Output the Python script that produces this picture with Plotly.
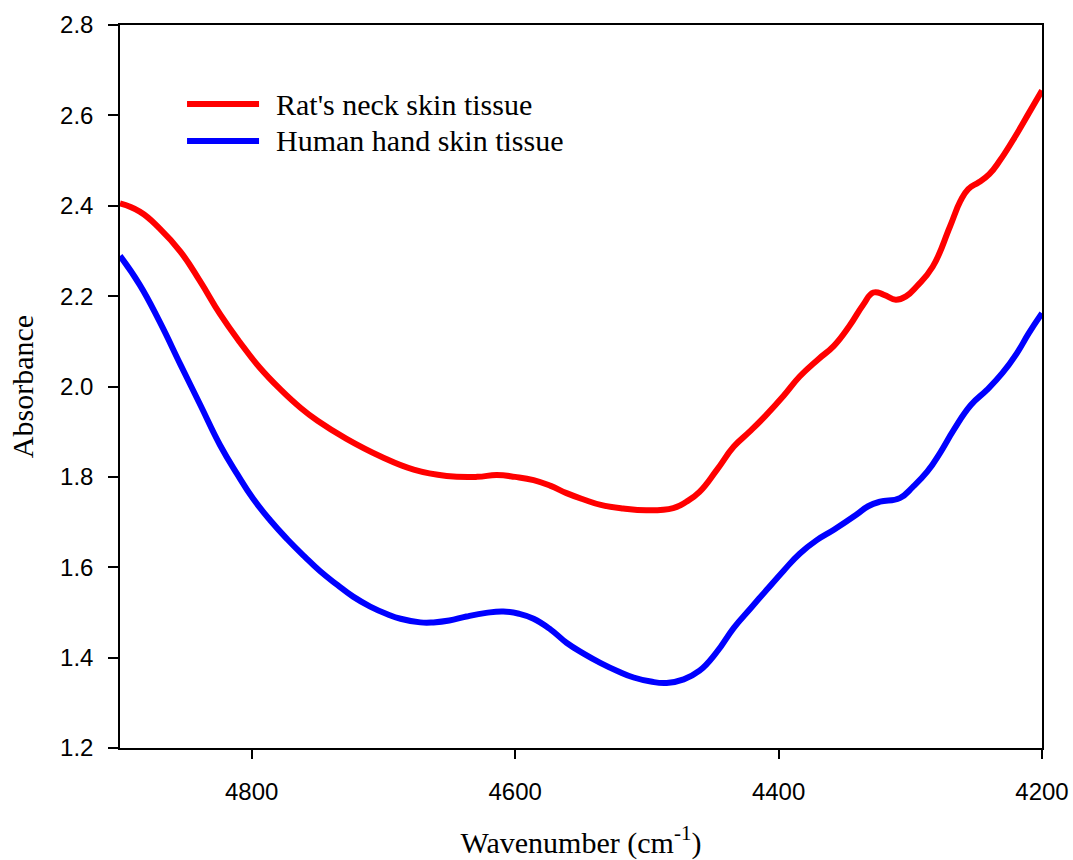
import plotly.graph_objects as go

# Rat's neck skin tissue
rat_wn = [4900, 4885, 4870, 4854, 4839, 4824, 4809, 4794, 4778, 4763, 4750, 4728,
          4702, 4677, 4652, 4629, 4614, 4600,
          4586, 4573, 4561, 4548, 4535, 4518, 4500, 4480, 4470, 4460, 4447, 4434,
          4422, 4410, 4396, 4384, 4370, 4358, 4346, 4336, 4328, 4320, 4311, 4303,
          4295, 4283, 4270, 4262, 4256, 4248, 4240, 4232, 4220, 4210, 4200]
rat_abs = [2.405, 2.387, 2.350, 2.298, 2.232, 2.160, 2.098, 2.042, 1.993, 1.953, 1.924, 1.884,
           1.845, 1.816, 1.802, 1.800, 1.804, 1.800,
           1.793, 1.780, 1.764, 1.750, 1.738, 1.730, 1.726, 1.731, 1.745, 1.767, 1.815, 1.867,
           1.900, 1.935, 1.980, 2.022, 2.060, 2.090, 2.135, 2.180, 2.208, 2.203, 2.192, 2.200,
           2.222, 2.265, 2.353, 2.410, 2.437, 2.452, 2.470, 2.500, 2.555, 2.605, 2.655]

# Human hand skin tissue
hum_wn = [4900, 4885, 4870, 4854, 4839, 4824, 4811, 4799, 4786, 4773, 4760,
          4748, 4735, 4723, 4710, 4697, 4687, 4672, 4662, 4650, 4637, 4622, 4609,
          4597, 4586, 4573, 4561, 4548, 4535, 4522, 4510, 4497, 4485, 4472, 4460,
          4447, 4434, 4421, 4409, 4396, 4384, 4371, 4358, 4341, 4332, 4323, 4308,
          4298, 4287, 4277, 4267, 4254, 4242, 4230, 4219, 4210, 4200]
hum_abs = [2.289, 2.225, 2.144, 2.048, 1.959, 1.870, 1.806, 1.752, 1.704, 1.662, 1.624,
           1.591, 1.561, 1.535, 1.513, 1.496, 1.486, 1.478, 1.478, 1.482, 1.491, 1.499, 1.502,
           1.497, 1.486, 1.462, 1.433, 1.409, 1.388, 1.370, 1.356, 1.347, 1.344, 1.352, 1.371,
           1.412, 1.466, 1.510, 1.550, 1.593, 1.630, 1.660, 1.683, 1.716, 1.735, 1.745, 1.753,
           1.778, 1.812, 1.855, 1.904, 1.959, 1.992, 2.030, 2.074, 2.118, 2.162]

series_names = ["Rat's neck skin tissue", "Human hand skin tissue"]
series_colors = ["#FF0000", "#0000FF"]

x_ticks = [4800, 4600, 4400, 4200]
y_ticks = [1.2, 1.4, 1.6, 1.8, 2.0, 2.2, 2.4, 2.6, 2.8]

fig = go.Figure()
for wn, ab, name, col in [(rat_wn, rat_abs, series_names[0], series_colors[0]),
                          (hum_wn, hum_abs, series_names[1], series_colors[1])]:
    fig.add_trace(go.Scatter(x=wn, y=ab, mode="lines", name=name,
                             line=dict(color=col, width=6, shape="spline", smoothing=1.3),
                             showlegend=False))

# manual legend (long line samples, as in the reference)
leg_y = [0.8907, 0.8396]
for i in range(2):
    fig.add_shape(type="line", xref="paper", yref="paper",
                  x0=0.0727, x1=0.1508, y0=leg_y[i], y1=leg_y[i],
                  line=dict(color=series_colors[i], width=6))
    fig.add_annotation(xref="paper", yref="paper", x=0.167, y=leg_y[i],
                       xanchor="left", yanchor="middle", showarrow=False,
                       text=series_names[i],
                       font=dict(family="Liberation Serif", size=30, color="black"))

fig.update_layout(
    width=1073, height=860,
    margin=dict(l=120, r=31, t=25, b=112),
    paper_bgcolor="white", plot_bgcolor="white",
    font=dict(family="Liberation Sans", color="black"),
)
fig.update_xaxes(
    range=[4900, 4200], tickvals=x_ticks, ticktext=[str(v) for v in x_ticks],
    automargin=False,
    showgrid=False, zeroline=False, showline=True, linecolor="black", linewidth=1.5,
    mirror=True, ticks="outside", ticklen=9, tickwidth=1.5, tickcolor="black",
    tickfont=dict(family="Liberation Sans", size=24), ticklabelstandoff=12,
    title=dict(text="Wavenumber (cm<sup>-1</sup>)", standoff=30,
               font=dict(family="Liberation Serif", size=30)),
)
fig.update_yaxes(
    range=[1.2, 2.8], tickvals=y_ticks, ticktext=[f"{v:.1f}" for v in y_ticks],
    automargin=False,
    showgrid=False, zeroline=False, showline=True, linecolor="black", linewidth=1.5,
    mirror=True, ticks="outside", ticklen=10, tickwidth=1.5, tickcolor="black",
    tickfont=dict(family="Liberation Sans", size=24), ticklabelstandoff=10,
    title=dict(text="Absorbance", standoff=18,
               font=dict(family="Liberation Serif", size=30)),
)

fig.write_html("out.html")
